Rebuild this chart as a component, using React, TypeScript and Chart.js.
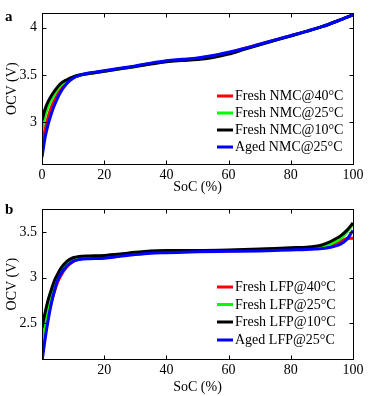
import React, { useEffect, useRef } from 'react';
import { Chart, registerables } from 'chart.js';

Chart.register(...registerables);

// ---------- Data ----------
const socNMC = [0, 1, 2, 3, 4, 6, 8, 10, 12, 15, 20, 25, 30, 35, 40, 45, 50, 55, 60, 65, 70, 75, 80, 85, 90, 95, 100];
const nmcFresh40 = [2.75, 2.93, 3.06, 3.16, 3.23, 3.35, 3.43, 3.47, 3.495, 3.515, 3.54, 3.565, 3.59, 3.62, 3.645, 3.66, 3.675, 3.70, 3.735, 3.78, 3.825, 3.87, 3.915, 3.96, 4.01, 4.07, 4.135];
const nmcFresh25 = [2.92, 3.07, 3.17, 3.24, 3.30, 3.39, 3.44, 3.475, 3.495, 3.515, 3.54, 3.565, 3.59, 3.62, 3.645, 3.66, 3.67, 3.695, 3.73, 3.775, 3.82, 3.868, 3.913, 3.96, 4.01, 4.07, 4.135];
const nmcFresh10 = [3.02, 3.14, 3.22, 3.28, 3.33, 3.41, 3.45, 3.48, 3.50, 3.515, 3.54, 3.565, 3.59, 3.615, 3.64, 3.652, 3.662, 3.685, 3.72, 3.77, 3.818, 3.866, 3.912, 3.96, 4.01, 4.07, 4.135];
const nmcAged25 = [2.63, 2.84, 2.98, 3.09, 3.18, 3.32, 3.41, 3.465, 3.495, 3.52, 3.545, 3.57, 3.595, 3.625, 3.65, 3.665, 3.68, 3.705, 3.74, 3.78, 3.825, 3.87, 3.915, 3.96, 4.01, 4.07, 4.135];

const socLFP = [0, 1, 2, 3, 4, 5, 6, 8, 10, 12, 15, 20, 25, 30, 35, 40, 50, 60, 70, 80, 85, 88, 90, 92, 94, 96, 98, 100];
const lfpFresh40 = [2.12, 2.38, 2.58, 2.73, 2.85, 2.95, 3.02, 3.12, 3.18, 3.205, 3.215, 3.22, 3.24, 3.265, 3.28, 3.29, 3.295, 3.295, 3.305, 3.315, 3.32, 3.33, 3.335, 3.35, 3.37, 3.40, 3.43, 3.435];
const lfpFresh25 = [2.30, 2.52, 2.69, 2.83, 2.94, 3.02, 3.08, 3.17, 3.21, 3.225, 3.235, 3.24, 3.255, 3.275, 3.29, 3.295, 3.30, 3.30, 3.31, 3.325, 3.33, 3.335, 3.345, 3.36, 3.39, 3.43, 3.50, 3.59];
const lfpFresh10 = [2.45, 2.62, 2.76, 2.87, 2.97, 3.04, 3.10, 3.18, 3.22, 3.235, 3.24, 3.245, 3.26, 3.28, 3.295, 3.30, 3.30, 3.305, 3.315, 3.33, 3.335, 3.345, 3.36, 3.385, 3.42, 3.46, 3.52, 3.60];
const lfpAged25 = [2.08, 2.33, 2.54, 2.72, 2.86, 2.97, 3.04, 3.13, 3.18, 3.20, 3.21, 3.215, 3.235, 3.255, 3.27, 3.275, 3.285, 3.29, 3.295, 3.305, 3.31, 3.315, 3.32, 3.33, 3.345, 3.37, 3.42, 3.52];

const labelsNMC = ['Fresh NMC@40°C', 'Fresh NMC@25°C', 'Fresh NMC@10°C', 'Aged NMC@25°C'];
const labelsLFP = ['Fresh LFP@40°C', 'Fresh LFP@25°C', 'Fresh LFP@10°C', 'Aged LFP@25°C'];
const seriesColors = ['#ff0000', '#00ff00', '#000000', '#0000ff'];

const xTicksA = [0, 20, 40, 60, 80, 100];
const xTicksB = [20, 40, 60, 80, 100];
const yTicksA = [3, 3.5, 4];
const yTicksB = [2.5, 3, 3.5];

const FONT_FAMILY = '"Liberation Serif", "Times New Roman", serif';
const FONT_SIZE = 14;

type PanelCfg = {
  soc: number[];
  series: number[][];
  labels: string[];
  xTicks: number[];
  yTicks: number[];
  yMin: number;
  yMax: number;
  height: number;
  padTop: number;
  xHeight: number;
  xTickPad: number;
  panelLabel: string;
  panelLabelY: number;
  legendX: number;
  legendRows: number[];
};

function framePlugin(cfg: PanelCfg) {
  return {
    id: 'frame' + cfg.panelLabel,
    afterDraw(chart: any) {
      const { ctx, chartArea: a, scales } = chart;
      ctx.save();
      ctx.strokeStyle = '#000';
      ctx.lineWidth = 1;
      const L = Math.round(a.left) + 0.5;
      const T = Math.round(a.top) + 0.5;
      const R = Math.round(a.right) + 0.5;
      const B = Math.round(a.bottom) + 0.5;
      ctx.strokeRect(L, T, R - L, B - T);
      const tl = 4;
      ctx.beginPath();
      scales.x.ticks.forEach((t: any) => {
        const px = Math.round(scales.x.getPixelForValue(t.value)) + 0.5;
        ctx.moveTo(px, B); ctx.lineTo(px, B - tl);
        ctx.moveTo(px, T); ctx.lineTo(px, T + tl);
      });
      scales.y.ticks.forEach((t: any) => {
        const py = Math.round(scales.y.getPixelForValue(t.value)) + 0.5;
        ctx.moveTo(L, py); ctx.lineTo(L + tl, py);
        ctx.moveTo(R, py); ctx.lineTo(R - tl, py);
      });
      ctx.stroke();

      // legend
      ctx.font = FONT_SIZE + 'px ' + FONT_FAMILY;
      ctx.textBaseline = 'middle';
      ctx.textAlign = 'left';
      cfg.labels.forEach((label, i) => {
        const y = cfg.legendRows[i];
        ctx.strokeStyle = seriesColors[i];
        ctx.lineWidth = 3;
        ctx.beginPath();
        ctx.moveTo(cfg.legendX, y);
        ctx.lineTo(cfg.legendX + 16, y);
        ctx.stroke();
        ctx.fillStyle = '#000';
        ctx.fillText(label, cfg.legendX + 18, y + 0.5);
      });

      // panel label
      ctx.font = 'bold 15px ' + FONT_FAMILY;
      ctx.textBaseline = 'alphabetic';
      ctx.fillStyle = '#000';
      ctx.fillText(cfg.panelLabel, 5, cfg.panelLabelY);
      ctx.restore();
    },
  };
}

function Panel({ cfg }: { cfg: PanelCfg }) {
  const ref = useRef<HTMLCanvasElement | null>(null);
  useEffect(() => {
    if (!ref.current) return;
    const font = { family: FONT_FAMILY, size: FONT_SIZE };
    const n = cfg.series.length;
    const chart = new Chart(ref.current, {
      type: 'line',
      data: {
        datasets: cfg.series.map((vals, i) => ({
          label: cfg.labels[i],
          data: cfg.soc.map((s, j) => ({ x: s, y: vals[j] })),
          borderColor: seriesColors[i],
          backgroundColor: seriesColors[i],
          borderWidth: 3,
          pointRadius: 0,
          fill: false,
          order: n - 1 - i,
          cubicInterpolationMode: 'monotone',
        })),
      },
      options: {
        animation: false,
        responsive: false,
        devicePixelRatio: 1,
        layout: { padding: { left: 0, right: 17, top: cfg.padTop, bottom: 0 } },
        plugins: { legend: { display: false }, tooltip: { enabled: false } },
        scales: {
          x: {
            type: 'linear',
            min: 0,
            max: 100,
            afterBuildTicks: (s: any) => { s.ticks = cfg.xTicks.map((v) => ({ value: v })); },
            afterFit: (s: any) => { s.height = cfg.xHeight; },
            ticks: { font, color: '#000', padding: cfg.xTickPad, maxRotation: 0, autoSkip: false, callback: (v: any) => String(v) },
            grid: { display: false, drawTicks: false },
            border: { display: false },
            title: { display: true, text: 'SoC (%)', font, color: '#000', padding: 0 },
          },
          y: {
            type: 'linear',
            min: cfg.yMin,
            max: cfg.yMax,
            afterBuildTicks: (s: any) => { s.ticks = cfg.yTicks.map((v) => ({ value: v })); },
            afterFit: (s: any) => { s.width = 42; },
            ticks: { font, color: '#000', padding: 5, autoSkip: false, callback: (v: any) => String(v) },
            grid: { display: false, drawTicks: false },
            border: { display: false },
            title: { display: true, text: 'OCV (V)', font, color: '#000', padding: { top: 4, bottom: 0 } },
          },
        },
      },
      plugins: [framePlugin(cfg)],
    } as any);
    return () => chart.destroy();
  }, [cfg]);
  return <canvas ref={ref} width={370} height={cfg.height} style={{ display: 'block', width: 370, height: cfg.height }} />;
}

const panelA: PanelCfg = {
  soc: socNMC,
  series: [nmcFresh40, nmcFresh25, nmcFresh10, nmcAged25],
  labels: labelsNMC,
  xTicks: xTicksA,
  yTicks: yTicksA,
  yMin: 2.56,
  yMax: 4.15,
  height: 196,
  padTop: 5,
  xHeight: 32,
  xTickPad: 3,
  panelLabel: 'a',
  panelLabelY: 20.7,
  legendX: 217,
  legendRows: [96, 113, 130, 147],
};

const panelB: PanelCfg = {
  soc: socLFP,
  series: [lfpFresh40, lfpFresh25, lfpFresh10, lfpAged25],
  labels: labelsLFP,
  xTicks: xTicksB,
  yTicks: yTicksB,
  yMin: 2.11,
  yMax: 3.75,
  height: 200,
  padTop: 4,
  xHeight: 37,
  xTickPad: 3,
  panelLabel: 'b',
  panelLabelY: 17.5,
  legendX: 217,
  legendRows: [91, 108.5, 126, 144],
};

export default function App() {
  return (
    <div style={{ position: 'absolute', left: 0, top: 0, width: 370, height: 396, background: '#fff' }}>
      <Panel cfg={panelA} />
      <Panel cfg={panelB} />
    </div>
  );
}
